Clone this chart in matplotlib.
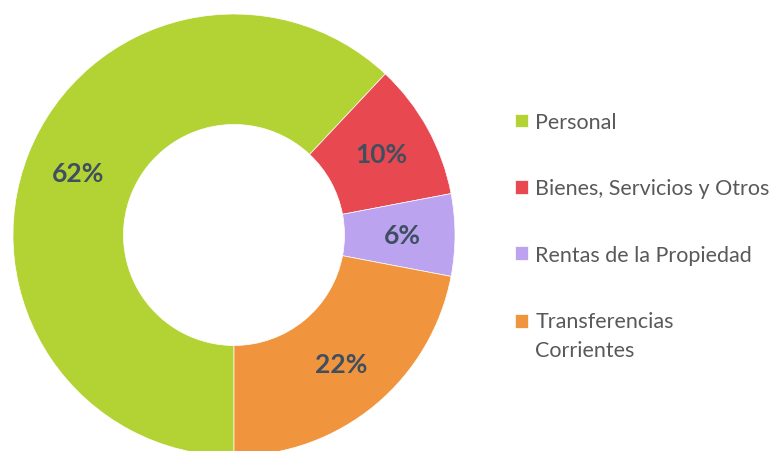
import matplotlib.pyplot as plt
from matplotlib.patches import Rectangle
from matplotlib.legend_handler import HandlerPatch

# datos del gráfico
categorias = ["Personal", "Bienes, Servicios y Otros", "Rentas de la Propiedad",
              "Transferencias\nCorrientes"]
porcentajes = [62, 10, 6, 22]
colores = ["#B3D234", "#E8484F", "#BBA3F0", "#F0943E"]

plt.rcParams['font.family'] = ['Lato', 'DejaVu Sans']


# cuadro de leyenda alineado con la primera línea del texto
def primera_linea(legend, orig_handle, xdescent, ydescent, width, height, fontsize):
    return Rectangle((-xdescent, -ydescent + 0.7 * fontsize), width, height)


fig = plt.figure(figsize=(7.77, 4.52), dpi=100)
# ejes cuadrados, la dona se corta un poco por abajo como en el original
ax = fig.add_axes([13 / 777, -5 / 452, 442 / 777, 442 / 452])

wedges, texts, autotexts = ax.pie(
    porcentajes, colors=colores, startangle=270, counterclock=False,
    radius=1.0, autopct='%d%%', pctdistance=0.76,
    wedgeprops=dict(width=0.5, edgecolor='white', linewidth=0.5),
    textprops=dict(color='#3F4F5F', fontsize=19, fontweight='bold'))
ax.set_xlim(-1, 1)
ax.set_ylim(-1, 1)
ax.set_aspect('equal')
ax.axis('off')

leg = fig.legend(wedges, categorias, loc='upper left',
                 bbox_to_anchor=(515 / 777, 1 - 113 / 452),
                 frameon=False, fontsize=15.5, labelcolor='#595959',
                 handlelength=0.6, handleheight=0.6, handletextpad=0.35,
                 labelspacing=2.15, borderpad=0, borderaxespad=0,
                 handler_map={wedges[-1]: HandlerPatch(patch_func=primera_linea)})
for t in leg.get_texts():
    t.set_linespacing(1.6)

fig.savefig("out.png", dpi=100)
